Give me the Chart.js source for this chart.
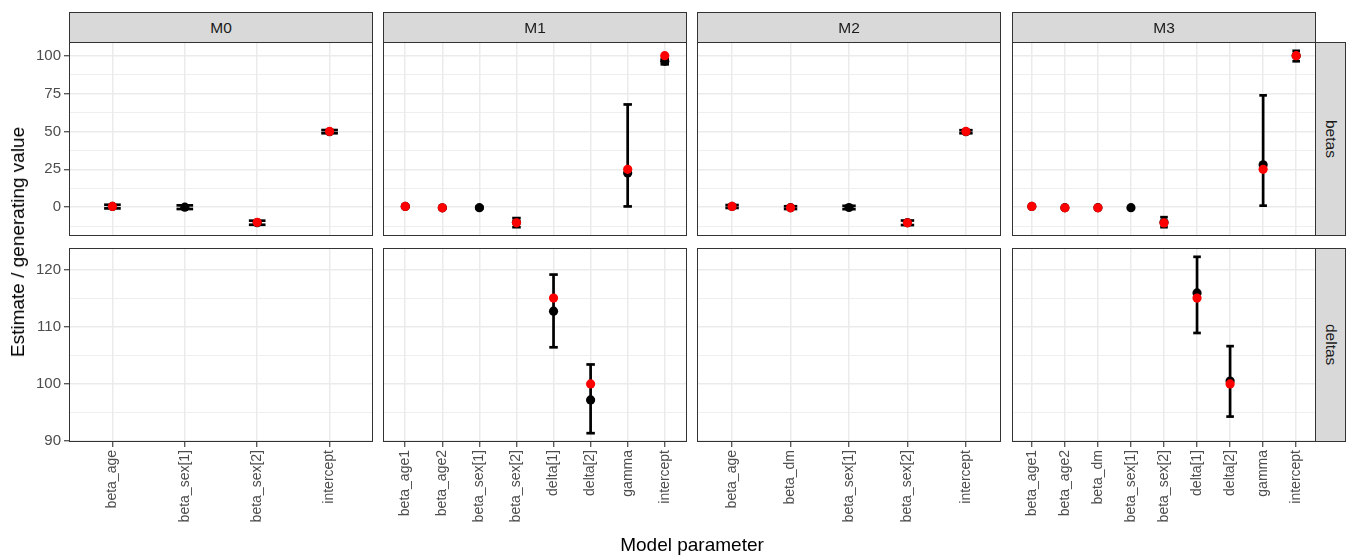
<!DOCTYPE html>
<html>
<head>
<meta charset="utf-8">
<script src="https://cdn.jsdelivr.net/npm/chart.js@4/dist/chart.umd.min.js"></script>
<style>
  body { margin: 0; background: #fff; font-family: "Liberation Sans", Arial, sans-serif; }
  #wrap { position: relative; width: 1350px; height: 556px; overflow: hidden; }
  .strip { position: absolute; box-sizing: border-box; background: #d9d9d9; border: 1px solid #333;
           color: #1a1a1a; font-size: 15.5px; display: flex; align-items: center; justify-content: center; }
  .strip .rot { writing-mode: vertical-rl; white-space: nowrap; font-weight: normal; }
  canvas { position: absolute; }
  .title { position: absolute; font-size: 19px; color: #000; white-space: nowrap; line-height: 20px; }
</style>
</head>
<body>
<div id="wrap"></div>
<script>
const models = ['M0', 'M1', 'M2', 'M3'];
const rowNames = ['betas', 'deltas'];

// parameters per model (delta[...] go in the deltas row)
const paramsM0 = ['beta_age', 'beta_sex[1]', 'beta_sex[2]', 'intercept'];
const estM0 = [0.5, 0, -10.2, 49.8];
const loM0  = [-0.8, -1.2, -11.6, 48.8];
const hiM0  = [1.6, 1.2, -8.9, 50.9];
const genM0 = [0.5, null, -10, 50];

const paramsM1 = ['beta_age1', 'beta_age2', 'beta_sex[1]', 'beta_sex[2]', 'delta[1]', 'delta[2]', 'gamma', 'intercept'];
const estM1 = [0.5, -0.4, -0.3, -10, 112.7, 97.2, 22.5, 96.3];
const loM1  = [0.2, -0.7, -0.8, -13.2, 106.4, 91.4, 0.5, 94.3];
const hiM1  = [0.8, -0.1, 0.3, -7.2, 119.1, 103.4, 67.8, 97.8];
const genM1 = [0.5, -0.4, null, -10.3, 115, 100, 25, 100];

const paramsM2 = ['beta_age', 'beta_dm', 'beta_sex[1]', 'beta_sex[2]', 'intercept'];
const estM2 = [0.5, -0.3, -0.2, -10.2, 49.8];
const loM2  = [-0.5, -1.2, -1.3, -11.8, 48.8];
const hiM2  = [1.4, 0.6, 0.9, -8.8, 50.8];
const genM2 = [0.5, -0.4, null, -10.3, 50];

const paramsM3 = ['beta_age1', 'beta_age2', 'beta_dm', 'beta_sex[1]', 'beta_sex[2]', 'delta[1]', 'delta[2]', 'gamma', 'intercept'];
const estM3 = [0.5, -0.3, -0.3, -0.3, -10, 115.9, 100.5, 28, 99.9];
const loM3  = [0.2, -0.6, -0.6, -0.8, -13.2, 108.9, 94.3, 1.0, 96.3];
const hiM3  = [0.8, 0, 0, 0.2, -6.6, 122.2, 106.6, 73.8, 103.2];
const genM3 = [0.5, -0.4, -0.4, null, -10.4, 115, 100, 25, 100];

// y ticks per row
const betaTicks = [0, 25, 50, 75, 100];
const betaMinor = [-12.5, 12.5, 37.5, 62.5, 87.5];
const deltaTicks = [90, 100, 110, 120];
const deltaMinor = [95, 105, 115];

const modelData = [
  { params: paramsM0, est: estM0, lo: loM0, hi: hiM0, gen: genM0 },
  { params: paramsM1, est: estM1, lo: loM1, hi: hiM1, gen: genM1 },
  { params: paramsM2, est: estM2, lo: loM2, hi: hiM2, gen: genM2 },
  { params: paramsM3, est: estM3, lo: loM3, hi: hiM3, gen: genM3 }
];
const rowTicks = [[betaTicks, betaMinor], [deltaTicks, deltaMinor]];
const rowOf = p => p.startsWith('delta') ? 1 : 0;

// ggplot style limits: data range + 5%
const rowLimits = [0, 1].map(r => {
  const vals = [];
  modelData.forEach(md => md.params.forEach((p, i) => {
    if (rowOf(p) === r) [md.lo[i], md.hi[i], md.est[i], md.gen[i]].forEach(v => { if (v != null) vals.push(v); });
  }));
  const lo = Math.min(...vals), hi = Math.max(...vals), pad = (hi - lo) * 0.05;
  return [lo - pad, hi + pad];
});

const FONT = '"Liberation Sans", Arial, sans-serif';
Chart.defaults.font.family = FONT;

const colX = [69, 383, 697, 1012];
const panelW = 304;
const rowY = [42, 248];
const panelH = 194;
const yAxisW = 60;
const xAxisH = 100;

const wrap = document.getElementById('wrap');

const frame = {
  id: 'frame',
  afterDraw(chart) {
    const { ctx, chartArea: a } = chart;
    ctx.save();
    ctx.strokeStyle = '#333';
    ctx.lineWidth = 1;
    ctx.strokeRect(a.left + 0.5, a.top + 0.5, a.width - 1, a.height - 1);
    ctx.restore();
  }
};

function zeroPad(s) { s.paddingLeft = s.paddingRight = s.paddingTop = s.paddingBottom = 0; }

function makePanel(r, c) {
  const md = modelData[c];
  const n = md.params.length;
  const [major, minor] = rowTicks[r];
  const inRow = i => rowOf(md.params[i]) === r;

  const bars = [];
  md.params.forEach((p, i) => {
    if (inRow(i) && md.lo[i] != null) bars.push({ x: i + 1, y: md.lo[i] }, { x: i + 1, y: md.hi[i] }, { x: i + 1, y: null });
  });
  const pts = arr => md.params.map((p, i) => ({ x: i + 1, y: inRow(i) ? arr[i] : null }));

  const left = colX[c] - (c === 0 ? yAxisW : 0);
  const w = panelW + (c === 0 ? yAxisW : 0);
  const h = panelH + (r === 1 ? xAxisH : 0);
  const cv = document.createElement('canvas');
  cv.width = w; cv.height = h;
  cv.style.left = left + 'px'; cv.style.top = rowY[r] + 'px';
  cv.style.width = w + 'px'; cv.style.height = h + 'px';
  wrap.appendChild(cv);

  const capRadius = ctx => {
    const s = ctx.chart.scales.x;
    return Math.abs(s.getPixelForValue(0.115) - s.getPixelForValue(0));
  };

  new Chart(cv, {
    type: 'scatter',
    data: {
      datasets: [
        { data: pts(md.gen), pointRadius: 4.6, pointBorderWidth: 0, backgroundColor: '#ff0000', order: 1 },
        { data: pts(md.est), pointRadius: 4.6, pointBorderWidth: 0, backgroundColor: '#000', order: 2 },
        { data: bars, showLine: true, spanGaps: false, borderColor: '#000', borderWidth: 2.7,
          pointStyle: 'line', pointRadius: capRadius, pointBorderWidth: 2.7, pointBorderColor: '#000', order: 3 }
      ]
    },
    options: {
      responsive: false,
      animation: false,
      layout: { padding: 0, autoPadding: false },
      plugins: { legend: { display: false }, tooltip: { enabled: false } },
      scales: {
        x: {
          type: 'linear', min: 0.4, max: n + 0.6,
          afterBuildTicks: s => { s.ticks = md.params.map((p, i) => ({ value: i + 1 })); },
          afterFit: s => { s.height = r === 1 ? xAxisH : 0; zeroPad(s); },
          border: { display: false },
          grid: { color: '#ebebeb', lineWidth: 1.5, drawTicks: r === 1, tickLength: 5, tickColor: '#333', tickWidth: 1.1 },
          ticks: {
            display: r === 1, autoSkip: false, minRotation: 90, maxRotation: 90, padding: 3,
            color: '#4d4d4d', font: { size: 14 },
            callback: (v, i) => md.params[i]
          }
        },
        y: {
          type: 'linear', min: rowLimits[r][0], max: rowLimits[r][1],
          afterBuildTicks: s => { s.ticks = major.concat(minor).sort((a, b) => a - b).map(v => ({ value: v })); },
          afterFit: s => { s.width = c === 0 ? yAxisW : 0; zeroPad(s); },
          border: { display: false },
          grid: {
            color: '#ebebeb',
            lineWidth: ctx => major.includes(ctx.tick.value) ? 1.5 : 0.8,
            drawTicks: c === 0, tickLength: 5, tickWidth: 1.1,
            tickColor: ctx => major.includes(ctx.tick.value) ? '#333' : 'rgba(0,0,0,0)'
          },
          ticks: {
            display: c === 0, autoSkip: false, padding: 3, color: '#4d4d4d', font: { size: 15 },
            callback: v => major.includes(v) ? String(v) : ''
          }
        }
      }
    },
    plugins: [frame]
  });
}

for (let r = 0; r < 2; r++) for (let c = 0; c < 4; c++) makePanel(r, c);

// facet strips
models.forEach((m, c) => {
  const d = document.createElement('div');
  d.className = 'strip';
  d.style.cssText = `left:${colX[c]}px;top:12px;width:${panelW}px;height:31px;`;
  d.textContent = m;
  wrap.appendChild(d);
});
rowNames.forEach((rn, r) => {
  const d = document.createElement('div');
  d.className = 'strip';
  d.style.cssText = `left:${colX[3] + panelW - 1}px;top:${rowY[r]}px;width:31px;height:${panelH}px;`;
  d.innerHTML = `<span class="rot">${rn}</span>`;
  wrap.appendChild(d);
});

// axis titles
const xt = document.createElement('div');
xt.className = 'title';
xt.textContent = 'Model parameter';
xt.style.cssText = 'left:692px;top:535px;transform:translateX(-50%);';
wrap.appendChild(xt);

const yt = document.createElement('div');
yt.className = 'title';
yt.textContent = 'Estimate / generating value';
yt.style.cssText = 'left:18px;top:242px;transform:translate(-50%,-50%) rotate(-90deg);';
wrap.appendChild(yt);
</script>
</body>
</html>
